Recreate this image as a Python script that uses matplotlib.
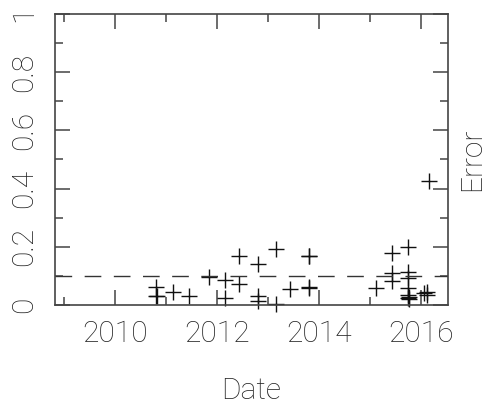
import matplotlib
matplotlib.use("Agg")
import matplotlib.pyplot as plt
from matplotlib.ticker import MultipleLocator, FuncFormatter

# Decimal-year dates and error values
dates = [2010.81, 2010.81, 2010.83, 2011.14, 2011.45, 2011.84, 2012.17, 2012.17,
         2012.43, 2012.44, 2012.81, 2012.81, 2012.81, 2013.16, 2013.16, 2013.43,
         2013.80, 2013.80, 2013.81, 2013.81, 2015.11, 2015.43, 2015.44, 2015.44,
         2015.75, 2015.75, 2015.75, 2015.75, 2015.75, 2015.75, 2015.76, 2015.77,
         2016.16, 2016.05, 2016.11, 2016.12]
errors = [0.061, 0.032, 0.030, 0.045, 0.032, 0.096, 0.085, 0.023,
          0.072, 0.167, 0.142, 0.032, 0.014, 0.191, 0.003, 0.056,
          0.167, 0.063, 0.168, 0.060, 0.060, 0.180, 0.109, 0.084,
          0.199, 0.115, 0.092, 0.058, 0.034, 0.025, 0.021, 0.028,
          0.426, 0.040, 0.045, 0.034]
threshold = 0.1

xlim = (2008.83, 2016.53)
ylim = (0.0, 1.0)

plt.rcParams['font.family'] = ['Roboto', 'DejaVu Sans']
plt.rcParams['font.weight'] = 'light'
plt.rcParams['axes.labelweight'] = 'light'

fig = plt.figure(figsize=(4.86, 4.08), dpi=100)
ax = fig.add_axes([55/486, 1-305/408, (448-55)/486, (305-14)/408])

tc = "#222222"
fs = 21.5
ax.plot(dates, errors, linestyle="none", marker="+", markersize=12,
        markeredgewidth=1.0, color="#111111", clip_on=False)
ax.axhline(threshold, color="#333333", linewidth=1.0, dashes=(12, 9))

ax.set_xlim(*xlim)
ax.set_ylim(*ylim)
ax.xaxis.set_major_locator(MultipleLocator(2))
ax.xaxis.set_minor_locator(MultipleLocator(1))
ax.yaxis.set_major_locator(MultipleLocator(0.2))
ax.yaxis.set_minor_locator(MultipleLocator(0.1))
ax.xaxis.set_major_formatter(FuncFormatter(lambda v, p: f"{int(round(v))}"))
ax.yaxis.set_major_formatter(FuncFormatter(
    lambda v, p: "0" if abs(v) < 1e-9 else ("1" if abs(v-1) < 1e-9 else f"{v:.1f}")))

for s in ax.spines.values():
    s.set_color("#444444")
    s.set_linewidth(1.2)

ax.tick_params(which="both", direction="in", top=True, right=True,
               color="#444444", width=1.1, labelcolor=tc, labelsize=fs)
ax.tick_params(which="major", length=11)
ax.tick_params(which="minor", length=5.5)
ax.tick_params(axis="x", which="major", pad=11)
ax.tick_params(axis="y", which="major", pad=12)
for lab in ax.get_yticklabels():
    lab.set_rotation(90)
    lab.set_va("center")

ax.set_xlabel("Date", fontsize=fs, color=tc, labelpad=21, fontweight="light")
ax.yaxis.set_label_position("right")
ax.set_ylabel("Error", fontsize=fs, color=tc, labelpad=7, rotation=90,
              fontweight="light")

fig.savefig("out.png", dpi=100)
